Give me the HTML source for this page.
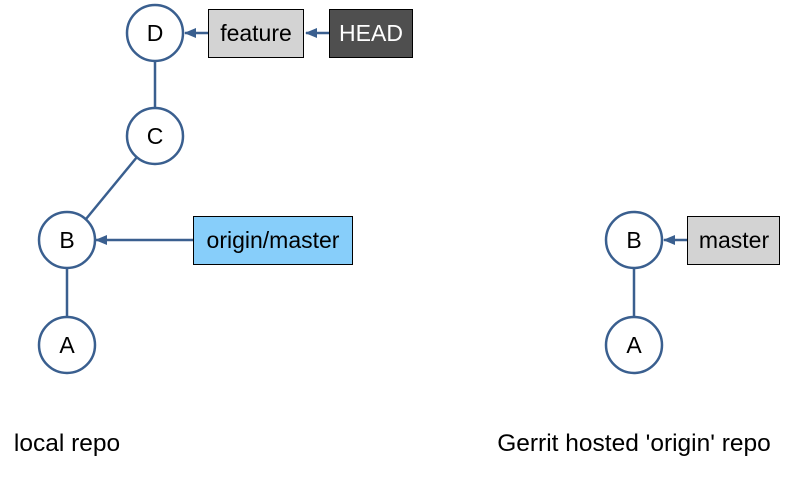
<!DOCTYPE html>
<html><head><style>body{margin:0;background:#fff}</style></head><body>
<svg width="787" height="475" xmlns="http://www.w3.org/2000/svg" font-family="Liberation Sans, Arial, sans-serif">
<defs><marker id="a" markerWidth="12" markerHeight="10" refX="11" refY="5" orient="auto" markerUnits="userSpaceOnUse"><path d="M0,0L12,5L0,10z" fill="#3a5f8f"/></marker></defs>
<g stroke="#3a5f8f" stroke-width="2.5" fill="none">
<line x1="155" y1="61" x2="155" y2="108"/>
<line x1="137" y1="157" x2="86" y2="219"/>
<line x1="67" y1="268" x2="67" y2="317"/>
<line x1="634" y1="268" x2="634" y2="317"/>
</g>
<g stroke="#3a5f8f" stroke-width="2.5" fill="none">
<line x1="208" y1="33" x2="185" y2="33" marker-end="url(#a)"/>
<line x1="329" y1="33" x2="306" y2="33" marker-end="url(#a)"/>
<line x1="193" y1="240" x2="96" y2="240" marker-end="url(#a)"/>
<line x1="687" y1="240" x2="664" y2="240" marker-end="url(#a)"/>
</g>
<g stroke="#3a5f8f" stroke-width="2.5" fill="#fff">
<circle cx="155" cy="33" r="28"/><circle cx="155" cy="136" r="28"/>
<circle cx="67" cy="240" r="28"/><circle cx="67" cy="345" r="28"/>
<circle cx="634" cy="240" r="28"/><circle cx="634" cy="345" r="28"/>
</g>
<g stroke="#000" stroke-width="1">
<rect x="208.5" y="9.5" width="95" height="48" fill="#d3d3d3"/>
<rect x="329.5" y="9.5" width="83" height="48" fill="#4f4f4f"/>
<rect x="193.5" y="216.5" width="159" height="48" fill="#87cefa"/>
<rect x="687.5" y="216.5" width="92" height="48" fill="#d3d3d3"/>
</g>
<g font-size="23" text-anchor="middle" fill="#000">
<text x="155" y="41">D</text><text x="155" y="144">C</text>
<text x="67" y="248">B</text><text x="67" y="353">A</text>
<text x="634" y="248">B</text><text x="634" y="353">A</text>
<text x="256" y="41">feature</text>
<text x="371" y="41" fill="#fff">HEAD</text>
<text x="273" y="248">origin/master</text>
<text x="734" y="248">master</text>
<text x="67" y="451" font-size="24.5">local repo</text>
<text x="634" y="451" font-size="24.5">Gerrit hosted 'origin' repo</text>
</g>
</svg>
</body></html>
